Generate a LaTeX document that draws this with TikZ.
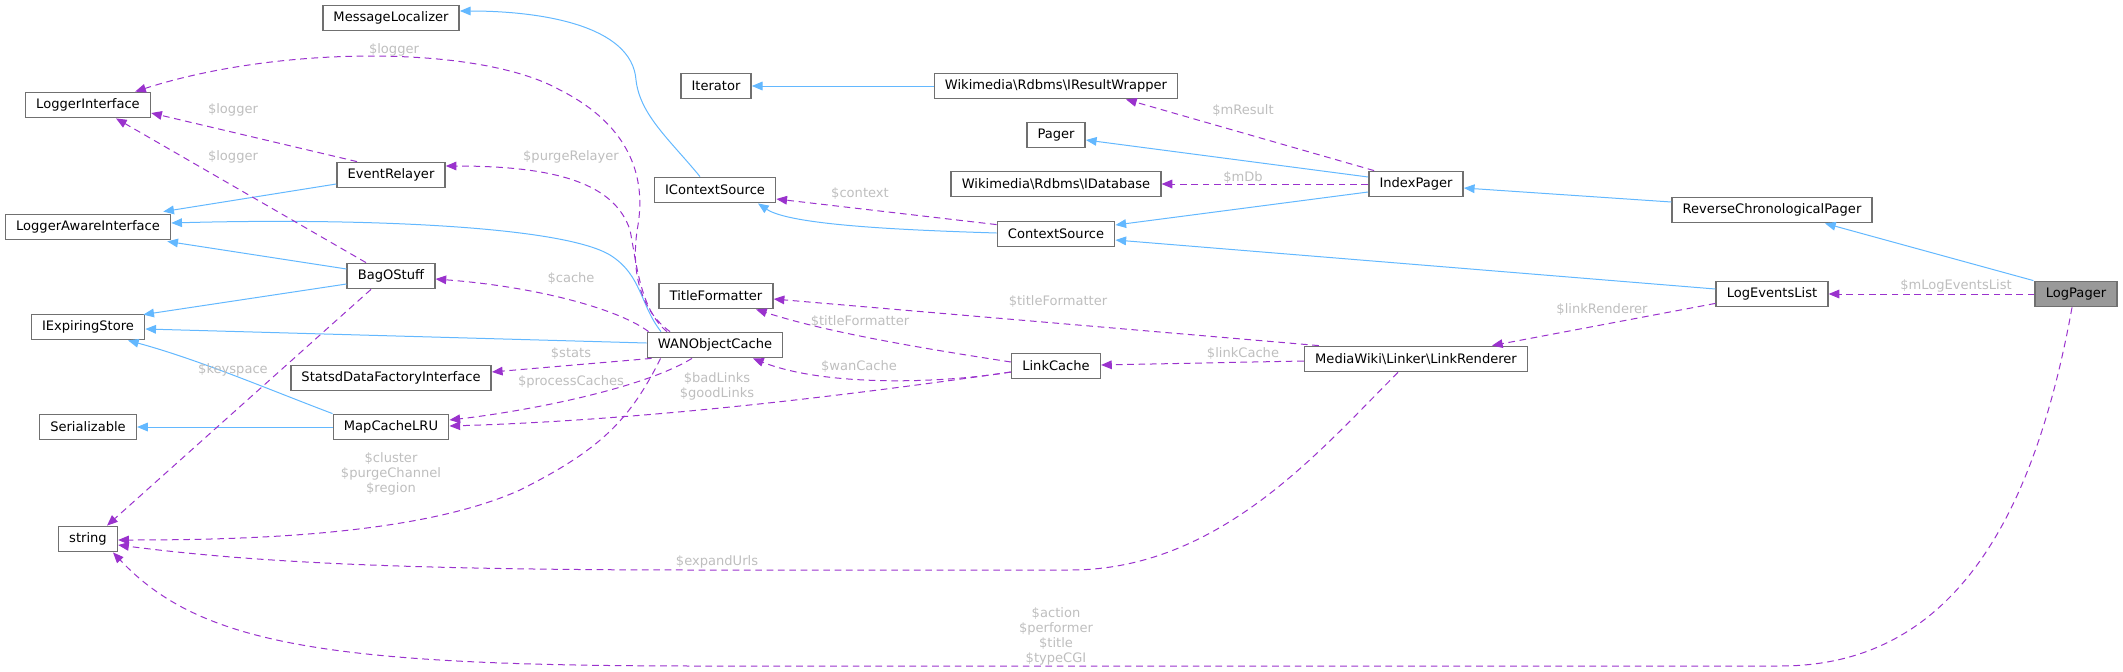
\documentclass[tikz,border=0pt]{standalone}
\usepackage{fontspec}
\setmainfont{DejaVu Sans}
\usetikzlibrary{arrows.meta,calc}
\definecolor{nodegray}{HTML}{707070}
\definecolor{inhblue}{HTML}{63B8FF}
\definecolor{usepurple}{HTML}{9A32CD}
\definecolor{lblgray}{HTML}{BEBEBE}
\definecolor{rootfill}{HTML}{999999}
\tikzset{
  cls/.style={draw=nodegray, line width=1.1pt, fill=white, minimum height=19pt,
    inner xsep=8pt, inner ysep=0pt, font=\fontsize{9.8}{12}\selectfont},
  rootcls/.style={cls, fill=rootfill},
  inh/.style={draw=inhblue, line width=0.75pt, -{Triangle[length=8pt,width=6.5pt]}},
  use/.style={draw=usepurple, line width=0.75pt, dash pattern=on 5pt off 3.5pt,
    -{Triangle[length=8pt,width=6.5pt]}},
  lbl/.style={text=lblgray, inner sep=0pt, align=center,
    font=\fontsize{9.8}{11.2}\selectfont}
}
\begin{document}
\begin{tikzpicture}[x=0.75pt,y=-0.75pt]
\useasboundingbox (0,0) rectangle (2123,671);
% nodes
\node[cls] (MessageLocalizer) at (391,18) {MessageLocalizer};
\node[cls] (LoggerInterface) at (88,105) {LoggerInterface};
\node[cls] (EventRelayer) at (391,175) {EventRelayer};
\node[cls] (LoggerAwareInterface) at (88,227) {LoggerAwareInterface};
\node[cls] (BagOStuff) at (391,276) {BagOStuff};
\node[cls] (IExpiringStore) at (88,327) {IExpiringStore};
\node[cls] (StatsdDataFactoryInterface) at (391,378) {StatsdDataFactoryInterface};
\node[cls] (Serializable) at (88,427) {Serializable};
\node[cls] (MapCacheLRU) at (391,427) {MapCacheLRU};
\node[cls] (string) at (88,539) {string};
\node[cls] (Iterator) at (716,86) {Iterator};
\node[cls] (IContextSource) at (715,190) {IContextSource};
\node[cls] (TitleFormatter) at (716,296) {TitleFormatter};
\node[cls] (WANObjectCache) at (715,345) {WANObjectCache};
\node[cls] (IResultWrapper) at (1056,86) {Wikimedia\textbackslash Rdbms\textbackslash IResultWrapper};
\node[cls] (Pager) at (1056,135) {Pager};
\node[cls] (IDatabase) at (1056,184) {Wikimedia\textbackslash Rdbms\textbackslash IDatabase};
\node[cls] (ContextSource) at (1056,234) {ContextSource};
\node[cls] (LinkCache) at (1056,366) {LinkCache};
\node[cls] (IndexPager) at (1416,184) {IndexPager};
\node[cls] (LinkRenderer) at (1416,359) {MediaWiki\textbackslash Linker\textbackslash LinkRenderer};
\node[cls] (ReverseChronologicalPager) at (1772,210) {ReverseChronologicalPager};
\node[cls] (LogEventsList) at (1772,294) {LogEventsList};
\node[rootcls] (LogPager) at (2076,294) {LogPager};

% inheritance edges
\draw[inh] ($(IContextSource.north)+(-15,0)$) .. controls (670,140) and (640,115) .. (636,80) .. controls (632,25) and (540,11) .. ($(MessageLocalizer.east)+(0,-7)$);
\draw[inh] (IResultWrapper.west) -- (Iterator.east);
\draw[inh] ($(IndexPager.west)+(0,-7)$) -- ($(Pager.east)+(0,5)$);
\draw[inh] ($(IndexPager.west)+(0,8)$) -- ($(ContextSource.east)+(0,-9)$);
\draw[inh] ($(ContextSource.west)+(0,-1)$) .. controls (900,230) and (790,225) .. ($(IContextSource.south)+(43,0)$);
\draw[inh] ($(LogEventsList.west)+(0,-5)$) -- ($(ContextSource.east)+(0,6)$);
\draw[inh] ($(ReverseChronologicalPager.west)+(0,-8)$) -- ($(IndexPager.east)+(0,4)$);
\draw[inh] ($(LogPager.north west)+(-1,0)$) -- ($(ReverseChronologicalPager.south)+(53,0)$);
\draw[inh] ($(EventRelayer.west)+(0,9)$) -- ($(LoggerAwareInterface.north east)+(-8,-2)$);
\draw[inh] ($(WANObjectCache.north)+(-54,0)$) .. controls (640,305) and (642,275) .. (610,255) .. controls (560,225) and (350,218) .. ($(LoggerAwareInterface.east)+(0,-4)$);
\draw[inh] ($(BagOStuff.west)+(0,-7)$) -- ($(LoggerAwareInterface.south east)+(-4,1)$);
\draw[inh] ($(BagOStuff.west)+(0,8)$) -- ($(IExpiringStore.north east)+(-2,1)$);
\draw[inh] ($(WANObjectCache.west)+(0,-2)$) -- ($(IExpiringStore.east)+(0,2)$);
\draw[inh] (MapCacheLRU.north west) .. controls (270,390) and (200,360) .. ($(IExpiringStore.south)+(40,0)$);
\draw[inh] (MapCacheLRU.west) -- (Serializable.east);

% usage edges
\draw[use] ($(WANObjectCache.north)+(-45,0)$) .. controls (640,310) and (630,270) .. (638,225) .. controls (650,150) and (600,110) .. (560,90) .. controls (480,45) and (280,45) .. ($(LoggerInterface.north east)+(-16,0)$);
\draw[use] ($(EventRelayer.north)+(-34,0)$) -- ($(LoggerInterface.east)+(0,8)$);
\draw[use] ($(BagOStuff.north)+(-25,0)$) -- ($(LoggerInterface.south)+(28,0)$);
\draw[use] ($(WANObjectCache.north)+(-48,0)$) .. controls (640,310) and (636,260) .. (630,230) .. controls (615,185) and (560,166) .. ($(EventRelayer.east)+(0,-9)$);
\draw[use] ($(WANObjectCache.north west)+(2,0)$) .. controls (620,310) and (540,287) .. ($(BagOStuff.east)+(0,3)$);
\draw[use] ($(WANObjectCache.south west)+(5,0)$) -- ($(StatsdDataFactoryInterface.east)+(0,-6)$);
\draw[use] ($(WANObjectCache.south)+(-23,0)$) .. controls (640,390) and (520,412) .. ($(MapCacheLRU.east)+(0,-7)$);
\draw[use] ($(LinkCache.west)+(0,6)$) .. controls (850,395) and (650,420) .. ($(MapCacheLRU.east)+(0,-1)$);
\draw[use] ($(WANObjectCache.south west)+(14,0)$) .. controls (630,420) and (600,450) .. (520,490) .. controls (420,535) and (250,540) .. ($(string.east)+(0,1)$);
\draw[use] ($(BagOStuff.south)+(-20,0)$) -- ($(string.north)+(19,0)$);
\draw[use] ($(LinkRenderer.south)+(-18,0)$) .. controls (1320,450) and (1220,570) .. (1070,570) -- (700,570) .. controls (400,570) and (250,562) .. ($(string.east)+(0,6)$);
\draw[use] ($(LogPager.south)+(-4,0)$) .. controls (2030,540) and (1940,666) .. (1780,666) -- (700,666) .. controls (330,666) and (200,645) .. ($(string.south)+(25,0)$);
\draw[use] (LogPager.west) -- (LogEventsList.east);
\draw[use] ($(LogEventsList.south west)+(0,-4)$) -- ($(LinkRenderer.north)+(76,0)$);
\draw[use] ($(LinkRenderer.west)+(0,2)$) -- ($(LinkCache.east)+(0,-1)$);
\draw[use] ($(LinkRenderer.north west)+(15,0)$) -- ($(TitleFormatter.east)+(0,3)$);
\draw[use] ($(LinkCache.west)+(0,-4)$) .. controls (900,345) and (820,330) .. ($(TitleFormatter.south)+(40,0)$);
\draw[use] ($(LinkCache.west)+(0,6)$) .. controls (930,385) and (820,385) .. ($(WANObjectCache.south)+(38,0)$);
\draw[use] ($(ContextSource.north west)+(0,4)$) -- ($(IContextSource.east)+(0,9)$);
\draw[use] (IndexPager.west) -- (IDatabase.east);
\draw[use] ($(IndexPager.north west)+(6,0)$) -- ($(IResultWrapper.south)+(70,0)$);

% labels
\node[lbl] (l1) at (394,50) {\$logger};
\node[lbl] (l2) at (233,110) {\$logger};
\node[lbl] (l3) at (233,157) {\$logger};
\node[lbl] (l4) at (571,157) {\$purgeRelayer};
\node[lbl] (l5) at (571,278) {\$cache};
\node[lbl] (l6) at (571,353) {\$stats};
\node[lbl] (l7) at (571,382) {\$processCaches};
\node[lbl] (l8) at (233,370) {\$keyspace};
\node[lbl] (l9) at (391,474) {\$cluster\\\$purgeChannel\\\$region};
\node[lbl] (l10) at (717,386) {\$badLinks\\\$goodLinks};
\node[lbl] (l11) at (717,562) {\$expandUrls};
\node[lbl] (l12) at (1056,636) {\$action\\\$performer\\\$title\\\$typeCGI};
\node[lbl] (l13) at (1243,110) {\$mResult};
\node[lbl] (l14) at (1243,177) {\$mDb};
\node[lbl] (l15) at (860,193) {\$context};
\node[lbl] (l16) at (1058,301) {\$titleFormatter};
\node[lbl] (l17) at (860,321) {\$titleFormatter};
\node[lbl] (l18) at (859,366) {\$wanCache};
\node[lbl] (l19) at (1243,353) {\$linkCache};
\node[lbl] (l20) at (1602,309) {\$linkRenderer};
\node[lbl] (l21) at (1956,286) {\$mLogEventsList};
\end{tikzpicture}
\end{document}
